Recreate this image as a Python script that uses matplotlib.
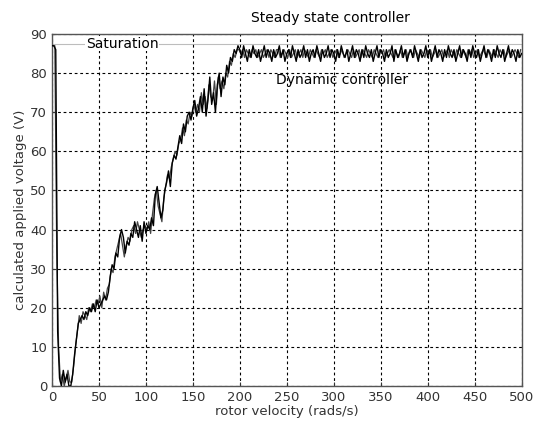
import numpy as np
import matplotlib
matplotlib.use("Agg")
import matplotlib.pyplot as plt

# rotor velocity samples (rads/s)
x_dyn = np.arange(0, 501, 2)
x_ss = np.arange(1, 500, 2)

dynamic = [
    87, 87, 86, 14, 2, 0, 4, 1, 3, 0,
    0, 3, 8, 12, 16, 17, 18, 17, 19, 18,
    20, 19, 21, 19, 22, 20, 21, 22, 23, 22,
    24, 28, 31, 30, 34, 33, 38, 40, 38, 34,
    37, 36, 39, 38, 42, 40, 38, 41, 37, 42,
    39, 41, 40, 43, 41, 49, 51, 47, 43, 45,
    50, 52, 55, 51, 57, 59, 58, 61, 64, 62,
    67, 65, 69, 70, 68, 71, 73, 69, 71, 74,
    70, 76, 69, 73, 79, 72, 75, 70, 77, 80,
    74, 79, 77, 82, 80, 84, 83, 86, 85, 87,
    86, 84, 87, 85, 83, 86, 84, 87, 85, 84,
    86, 83, 85, 87, 84, 86, 85, 83, 86, 84,
    85, 87, 84, 86, 83, 85, 86, 84, 87, 85,
    83, 86, 84, 85, 87, 84, 86, 83, 85, 86,
    84, 87, 85, 83, 86, 84, 85, 87, 84, 86,
    85, 83, 86, 84, 87, 85, 84, 86, 83, 85,
    87, 84, 86, 85, 83, 86, 84, 87, 85, 84,
    86, 83, 85, 87, 84, 86, 85, 83, 86, 84,
    85, 87, 83, 86, 84, 85, 87, 84, 86, 83,
    85, 86, 84, 87, 85, 83, 86, 84, 85, 87,
    84, 86, 83, 85, 87, 84, 86, 85, 83, 86,
    84, 87, 85, 84, 86, 83, 85, 87, 84, 86,
    85, 83, 86, 84, 87, 85, 84, 86, 83, 85,
    87, 84, 86, 85, 83, 86, 84, 87, 85, 84,
    86, 83, 85, 87, 84, 86, 85, 83, 86, 84,
    85,
]

steady = [
    87, 87, 35, 10, 1, 3, 0, 2, 4, 1,
    1, 5, 10, 14, 18, 16, 19, 18, 17, 20,
    19, 21, 20, 22, 21, 23, 20, 24, 22, 25,
    26, 30, 29, 33, 35, 37, 39, 36, 33, 36,
    38, 37, 40, 41, 39, 42, 40, 38, 40, 41,
    40, 42, 39, 44, 48, 50, 46, 44, 42, 48,
    51, 54, 53, 56, 58, 60, 59, 62, 63, 66,
    64, 68, 67, 70, 69, 72, 70, 72, 70, 75,
    72, 74, 71, 77, 74, 73, 78, 72, 79, 76,
    78, 76, 80, 79, 83, 82, 85, 84, 86, 86,
    85, 86, 84, 86, 85, 84, 86, 85, 86, 84,
    85, 86, 84, 85, 86, 84, 86, 85, 84, 86,
    86, 84, 85, 86, 85, 84, 86, 84, 85, 86,
    84, 85, 86, 84, 86, 85, 84, 86, 85, 84,
    86, 85, 84, 86, 85, 86, 84, 85, 86, 84,
    85, 86, 84, 85, 86, 84, 85, 86, 85, 84,
    86, 84, 85, 86, 84, 86, 85, 84, 86, 85,
    84, 86, 85, 84, 86, 85, 86, 84, 85, 86,
    85, 84, 86, 85, 84, 86, 84, 85, 86, 84,
    86, 85, 84, 86, 85, 84, 86, 85, 84, 86,
    85, 86, 84, 85, 86, 84, 85, 86, 84, 85,
    86, 84, 86, 85, 84, 86, 85, 84, 86, 85,
    84, 86, 85, 86, 84, 85, 86, 84, 85, 86,
    85, 84, 86, 85, 84, 86, 85, 84, 86, 85,
    86, 84, 85, 86, 84, 85, 86, 85, 84, 86,
]

saturation = 87.4

x_ticks = [0, 50, 100, 150, 200, 250, 300, 350, 400, 450, 500]
y_ticks = [0, 10, 20, 30, 40, 50, 60, 70, 80, 90]

fig = plt.figure(figsize=(5.34, 4.24), dpi=100)
ax = fig.add_axes([0.0974, 0.0896, 0.8794, 0.8302])

ax.axhline(saturation, color="#bdbdbd", lw=0.8, zorder=1)
ax.plot(x_ss, steady, color="#444444", lw=0.9, zorder=2)
ax.plot(x_dyn, dynamic, color="black", lw=1.0, zorder=3)

ax.set_xlim(0, 500)
ax.set_ylim(0, 90)
ax.set_xticks(x_ticks)
ax.set_yticks(y_ticks)
ax.tick_params(labelsize=9.5, colors="#333333", length=3, direction="in")
ax.grid(True, color="black", linestyle=(0, (2.5, 2.5)), lw=0.8)
for s in ax.spines.values():
    s.set_color("#555555")
    s.set_linewidth(1.0)

ax.set_xlabel("rotor velocity (rads/s)", fontsize=9.5, color="#333333", labelpad=1)
ax.set_ylabel("calculated applied voltage (V)", fontsize=9.5, color="#333333", labelpad=2)

ax.text(36, 87.5, "Saturation", fontsize=10, va="center", ha="left", zorder=4,
        bbox=dict(facecolor="white", edgecolor="none", pad=0.5))
ax.text(296, 94.2, "Steady state controller", fontsize=10, va="center", ha="center",
        clip_on=False)
ax.text(238, 78.2, "Dynamic controller", fontsize=10, va="center", ha="left", zorder=4)

fig.savefig("out.png", dpi=100, facecolor="white")
